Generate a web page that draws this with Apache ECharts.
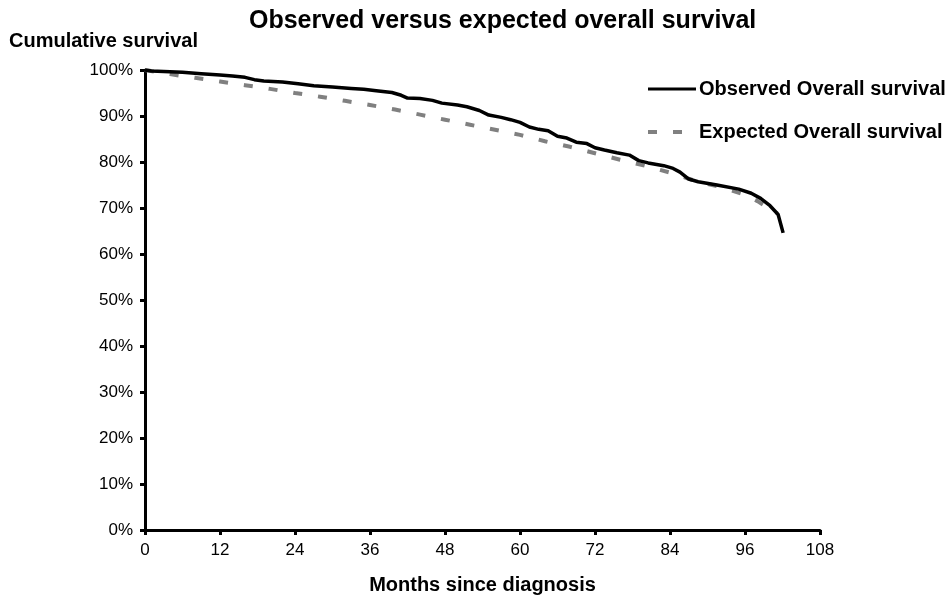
<!DOCTYPE html>
<html>
<head>
<meta charset="utf-8">
<script src="https://cdn.jsdelivr.net/npm/echarts@6/dist/echarts.min.js"></script>
<style>html,body{margin:0;padding:0;background:#fff}#c{width:950px;height:597px}</style>
</head>
<body>
<div id="c"></div>
<script>
const titleText = 'Observed versus expected overall survival';
const yAxisTitle = 'Cumulative survival';
const xAxisTitle = 'Months since diagnosis';
const seriesNames = ['Observed Overall survival', 'Expected Overall survival'];
const xTicks = [0, 12, 24, 36, 48, 60, 72, 84, 96, 108];
const yTicks = [0, 10, 20, 30, 40, 50, 60, 70, 80, 90, 100];

const observedMonths = [0,1,3,6,9,12,14,16,17.5,19,22,24.5,27,30,33,35,37,39.5,41,42,44,46,47.5,50,51.5,53.5,55,57,58.5,60,61.5,63,64.5,66,67.5,69,70.7,72,73.5,75.5,77.5,79,80.5,83,84.5,85.6,87,88.5,91.5,95,97,98.5,100,101.3,102.1];
const observedValues = [100,99.8,99.7,99.5,99.2,98.9,98.7,98.4,97.9,97.6,97.4,97.0,96.6,96.3,96.0,95.8,95.5,95.1,94.5,93.9,93.8,93.4,92.8,92.4,92.0,91.2,90.2,89.7,89.2,88.6,87.6,87.1,86.8,85.6,85.2,84.3,84.0,83.1,82.6,82.0,81.5,80.3,79.8,79.2,78.6,77.8,76.3,75.7,75.0,74.1,73.2,72.1,70.5,68.6,64.6];

const expectedMonths = [0,4,8,12,16,20,24,28,32,36,40,44,48,52,56,60,64,68,72,76,80,84,88,92,96,98,100,101.2];
const expectedValues = [100,99.1,98.3,97.5,96.7,95.9,95.0,94.2,93.3,92.4,91.4,90.3,89.2,88.1,87.0,85.9,84.5,83.3,81.9,80.5,79.2,77.7,75.9,74.6,72.9,71.5,69.8,68.8];

const FONT = '"Liberation Sans", Arial, sans-serif';
const chart = echarts.init(document.getElementById('c'), null, {renderer: 'canvas'});
const pair = (xs, ys) => xs.map((x, i) => [x, ys[i]]);

const solidIcon = 'path://M0,0.5L48,0.5L48,3.5L0,3.5Z M0,0L0,4';
const dashIcon = 'path://M0,0L9,0L9,4L0,4Z M25,0L34,0L34,4L25,4Z M48,0L48,4';

chart.setOption({
  animation: false,
  backgroundColor: '#fff',
  textStyle: {fontFamily: FONT},
  title: [
    {text: titleText, left: 244, top: 4,
     textStyle: {fontFamily: FONT, fontSize: 25, fontWeight: 'bold', color: '#000'}},
    {text: yAxisTitle, left: 9, top: 31, padding: 0,
     textStyle: {fontFamily: FONT, fontSize: 20, fontWeight: 'bold', color: '#000'}}
  ],
  legend: {
    orient: 'vertical', left: 648, top: 79, itemWidth: 48, itemHeight: 4, itemGap: 23,
    padding: 0, symbolKeepAspect: false,
    textStyle: {fontFamily: FONT, fontSize: 20, fontWeight: 'bold', color: '#000', padding: [0,0,0,-2]},
    data: [
      {name: seriesNames[0], icon: solidIcon},
      {name: seriesNames[1], icon: dashIcon}
    ]
  },
  grid: {left: 145, right: 130, top: 70, bottom: 67, containLabel: false, outerBoundsMode: 'none'},
  xAxis: {
    type: 'value', min: 0, max: 108, interval: 12,
    name: xAxisTitle, nameLocation: 'middle', nameGap: 45,
    nameTextStyle: {fontFamily: FONT, fontSize: 20, fontWeight: 'bold', color: '#000'},
    axisLine: {lineStyle: {color: '#000', width: 3}},
    axisTick: {show: true, inside: false, length: 5, lineStyle: {color: '#000', width: 3}},
    axisLabel: {fontFamily: FONT, fontSize: 17, color: '#000', margin: 12,
      formatter: v => xTicks.includes(v) ? String(v) : ''},
    splitLine: {show: false}
  },
  yAxis: {
    type: 'value', min: 0, max: 100, interval: 10,
    axisLine: {show: true, lineStyle: {color: '#000', width: 3}},
    axisTick: {show: true, inside: false, length: 5, lineStyle: {color: '#000', width: 3}},
    axisLabel: {fontFamily: FONT, fontSize: 17, color: '#000', margin: 12,
      formatter: v => yTicks.includes(v) ? v + '%' : ''},
    splitLine: {show: false}
  },
  series: [
    {name: seriesNames[1], type: 'line', data: pair(expectedMonths, expectedValues),
     symbol: 'none', smooth: false, z: 2,
     itemStyle: {color: '#808080'},
     lineStyle: {color: '#808080', width: 4, type: [9, 16]}},
    {name: seriesNames[0], type: 'line', data: pair(observedMonths, observedValues),
     symbol: 'none', smooth: false, z: 3,
     itemStyle: {color: '#000'},
     lineStyle: {color: '#000', width: 3.5}}
  ]
});
</script>
</body>
</html>
